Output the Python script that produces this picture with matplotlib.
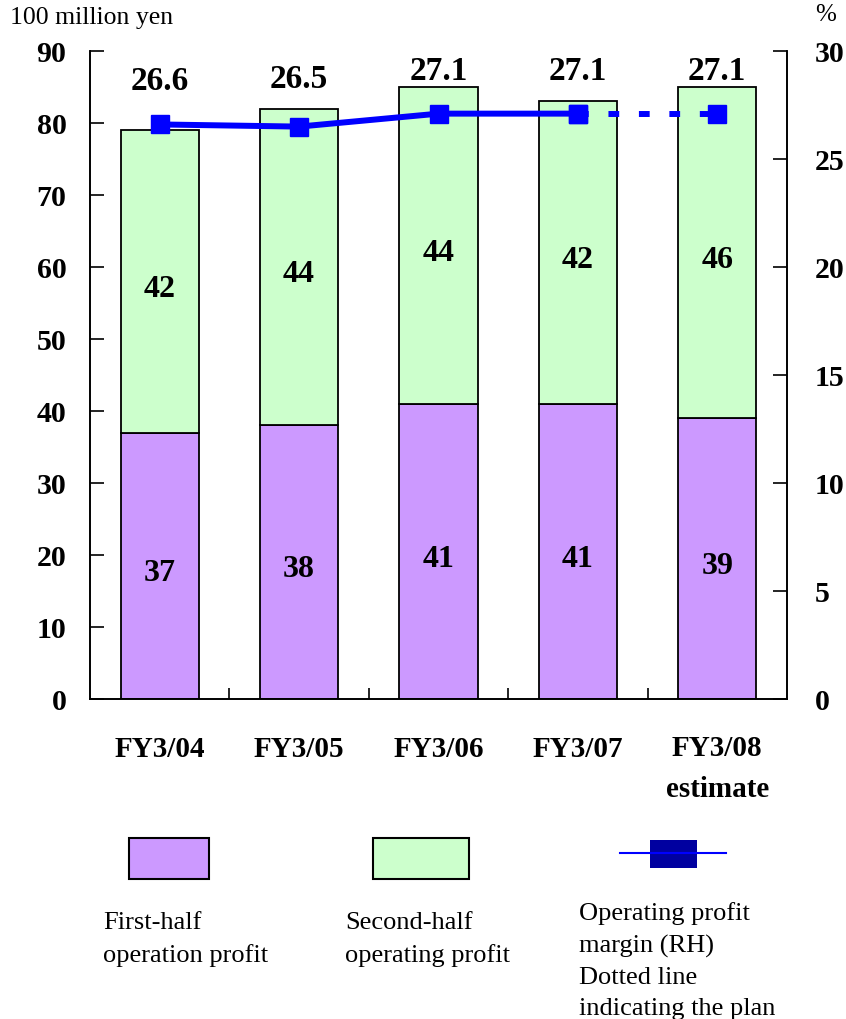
import matplotlib.pyplot as plt
from matplotlib.patches import Rectangle
from matplotlib.lines import Line2D

plt.rcParams['font.family'] = ['Liberation Serif', 'DejaVu Serif']

# 営業利益データ（億円）と営業利益率（%）
years = ['FY3/04', 'FY3/05', 'FY3/06', 'FY3/07', 'FY3/08\nestimate']
first_half = [37, 38, 41, 41, 39]
second_half = [42, 44, 44, 42, 46]
margin = [26.6, 26.5, 27.1, 27.1, 27.1]

purple = '#CC99FF'
green = '#CCFFCC'
blue = '#0000FF'

W, H = 846, 1019
fig = plt.figure(figsize=(W / 100, H / 100), dpi=100)
ax = fig.add_axes([90 / W, 1 - 699 / H, 697 / W, 648 / H])
ax2 = ax.twinx()

x = list(range(len(years)))
width = 0.56
ax.bar(x, first_half, width, color=purple, edgecolor='black', linewidth=1.3, zorder=2)
ax.bar(x, second_half, width, bottom=first_half, color=green, edgecolor='black',
       linewidth=1.3, zorder=2)

# 棒の中の数値
for i in x:
    ax.text(i, first_half[i] / 2 - 2.1, str(first_half[i]), ha='center',
            va='baseline', fontsize=23, fontweight='bold')
    ax.text(i, first_half[i] + second_half[i] / 2 - 2.1, str(second_half[i]),
            ha='center', va='baseline', fontsize=23, fontweight='bold')

# 利益率の数値（棒の上）
label_y = [84.6, 84.8, 86.0, 86.0, 86.0]
for i in x:
    ax.text(i, label_y[i], f'{margin[i]:.1f}', ha='center', va='baseline',
            fontsize=24, fontweight='bold')

ax.set_xlim(-0.5, len(years) - 0.5)
ax.set_ylim(0, 90)
ax.set_yticks(range(0, 91, 10))
ax.set_xticks([])
ax.set_xticks([i + 0.5 for i in x[:-1]], minor=True)
ax.tick_params(axis='x', which='minor', direction='in', length=8, width=1.2)
ax.tick_params(axis='y', direction='in', length=10, width=1.2, pad=17, labelsize=21.5)
for lbl in ax.get_yticklabels():
    lbl.set_fontweight('bold')
# 年度ラベル（複数行は最終行のベースラインで揃える）
for i, name in enumerate(years):
    extra = name.count('\n') * 40 / 7.2
    ax.text(i, -8.06 - extra, name, ha='center', va='baseline', fontsize=21,
            fontweight='bold', linespacing=1.69)

# 右軸：営業利益率
ax2.plot(x[:4], margin[:4], color=blue, linewidth=4.3, marker='s', markersize=12.5,
         zorder=3)
ax2.plot(x[3:], margin[3:], color=blue, linewidth=4.3, marker='s', markersize=12.5,
         dashes=(1.8, 3.3), zorder=3)
ax2.set_ylim(0, 30)
ax2.set_yticks(range(0, 31, 5))
ax2.tick_params(axis='y', direction='in', length=10, width=1.2, pad=20, labelsize=21.5)
for lbl in ax2.get_yticklabels():
    lbl.set_fontweight('bold')

for a in (ax, ax2):
    a.spines['top'].set_visible(False)
    for s in ('left', 'right', 'bottom'):
        a.spines[s].set_linewidth(1.2)

fig.text(10 / W, 1 - 18 / H, '100 million yen', ha='left', va='center', fontsize=18.5)
fig.text(815 / W, 1 - 15 / H, '%', ha='left', va='center', fontsize=18)

# 凡例
leg = fig.add_axes([0, 0, 1, 1], facecolor='none')
leg.set_xlim(0, W)
leg.set_ylim(H, 0)
leg.axis('off')
leg.add_patch(Rectangle((129, 838), 80, 41, facecolor=purple, edgecolor='black',
                        linewidth=1.5))
leg.add_patch(Rectangle((373, 838), 96, 41, facecolor=green, edgecolor='black',
                        linewidth=1.5))
leg.add_line(Line2D([620, 726], [853, 853], color=blue, linewidth=1.5))
leg.add_patch(Rectangle((650, 840), 47, 28, facecolor='#0000A0', edgecolor='none'))

leg.text(103, 962, 'First-half\noperation profit', ha='left', va='baseline',
         fontsize=19, linespacing=1.54)
leg.text(345, 962, 'Second-half\noperating profit', ha='left', va='baseline',
         fontsize=19, linespacing=1.54)
leg.text(579, 1015, 'Operating profit\nmargin (RH)\nDotted line\nindicating the plan',
         ha='left', va='baseline', fontsize=19, linespacing=1.54)

fig.savefig('out.png', dpi=100)
